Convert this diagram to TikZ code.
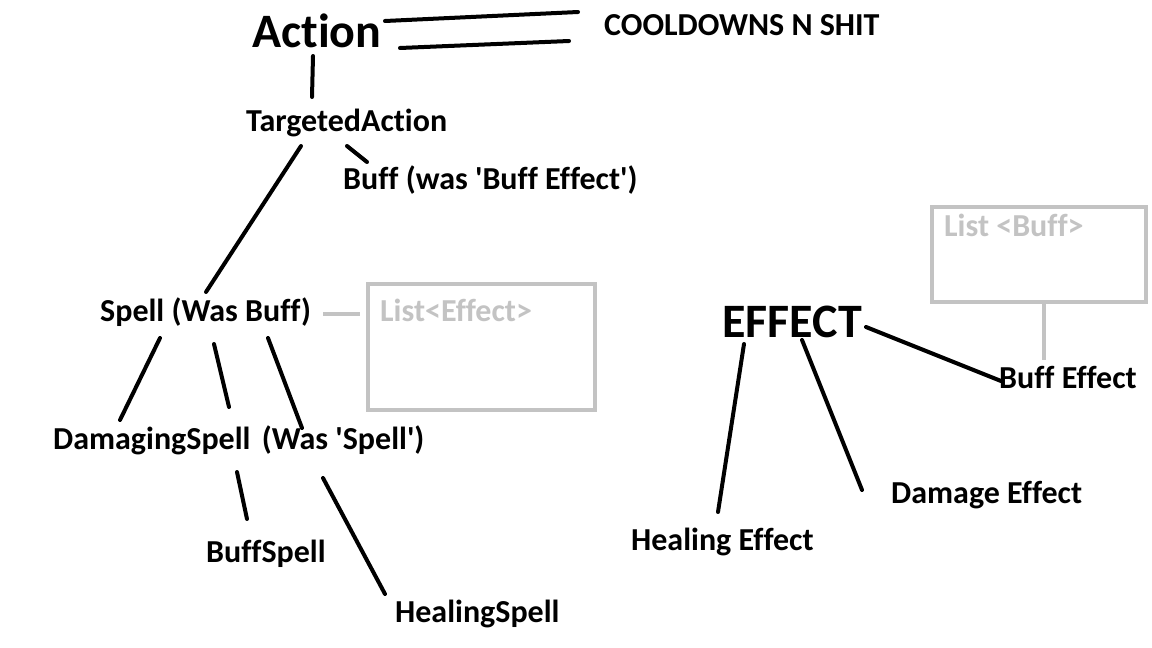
\documentclass[tikz,border=0pt]{standalone}
\usepackage{fontspec}
\setmainfont{Carlito}[Ligatures={NoCommon,NoContextual}]
\definecolor{paintgray}{RGB}{195,195,195}
\tikzset{
  lbl/.style={anchor=base west, inner sep=0pt, font=\bfseries\fontsize{32}{38}\selectfont},
  big/.style={lbl, font=\bfseries\fontsize{48}{56}\selectfont},
  graylbl/.style={lbl, text=paintgray},
  ink/.style={line width=4pt, line cap=round, black},
  grayink/.style={line width=4pt, line cap=round, paintgray},
  graybox/.style={line width=4pt, paintgray},
}
\newcommand{\sq}{\textquotesingle}
\begin{document}
\begin{tikzpicture}[x=1pt,y=-1pt]
\fill[white] (0,0) rectangle (1152,648);
\useasboundingbox (0,0) rectangle (1152,648);

% texts
\node[big] (action) at (252,47) {Action};
\node[lbl] (cool) at (604,35) {COOLDOWNS N SHIT};
\node[lbl] (targeted) at (246,131) {TargetedAction};
\node[lbl] (buff) at (343,189) {Buff (was \sq Buff Effect\sq)};
\node[lbl] (spell) at (100,321) {Spell (Was Buff)};
\node[graylbl] (listeffect) at (380,321) {List<Effect>};
\node[lbl] (damaging) at (53,449) {DamagingSpell\hspace{4pt} (Was \sq Spell\sq)};
\node[lbl] (buffspell) at (206,562) {BuffSpell};
\node[lbl] (healingspell) at (395,622) {HealingSpell};
\node[big] (effect) at (722,337) {EFFECT};
\node[lbl] (buffeffect) at (999,388) {Buff Effect};
\node[lbl] (damageeffect) at (891,503) {Damage Effect};
\node[lbl] (healingeffect) at (631,550) {Healing Effect};
\node[graylbl] (listbuff) at (944,236) {List <Buff>};

% gray boxes
\coordinate (b1a) at (368,284); \coordinate (b1b) at (595,410);
\coordinate (b2a) at (932,207); \coordinate (b2b) at (1146,302);
\draw[graybox] (b1a) rectangle (b1b);
\draw[graybox] (b2a) rectangle (b2b);

% connector end points
\coordinate (a1) at (385,21);  \coordinate (c1) at (578,12);
\coordinate (a2) at (400,48);  \coordinate (c2) at (569,41);
\coordinate (a3) at (313,56);  \coordinate (t1) at (312,97);
\coordinate (t2) at (347,146); \coordinate (bf) at (367,162);
\coordinate (t3) at (301,146); \coordinate (s0) at (206,292);
\coordinate (s1) at (160,338); \coordinate (d1) at (120,420);
\coordinate (s2) at (214,344); \coordinate (d2) at (229,407);
\coordinate (s3) at (268,338); \coordinate (d3) at (302,428);
\coordinate (d4) at (237,472); \coordinate (bs) at (247,519);
\coordinate (d5) at (323,478); \coordinate (hs) at (385,594);
\coordinate (e1) at (744,344); \coordinate (he) at (718,512);
\coordinate (e2) at (802,340); \coordinate (de) at (862,490);
\coordinate (e3) at (866,327); \coordinate (be) at (1001,381);
\coordinate (s4) at (323,314); \coordinate (l1) at (360,314);
\coordinate (l2) at (1044,304); \coordinate (be2) at (1044,360);

% black connectors
\draw[ink] (a1) -- (c1);
\draw[ink] (a2) -- (c2);
\draw[ink] (a3) -- (t1);
\draw[ink] (t2) -- (bf);
\draw[ink] (t3) -- (s0);
\draw[ink] (s1) -- (d1);
\draw[ink] (s2) -- (d2);
\draw[ink] (s3) -- (d3);
\draw[ink] (d4) -- (bs);
\draw[ink] (d5) -- (hs);
\draw[ink] (e1) -- (he);
\draw[ink] (e2) -- (de);
\draw[ink] (e3) -- (be);

% gray connectors
\draw[grayink, line cap=butt] (s4) -- (l1);
\draw[grayink, line cap=butt] (l2) -- (be2);
\end{tikzpicture}
\end{document}
